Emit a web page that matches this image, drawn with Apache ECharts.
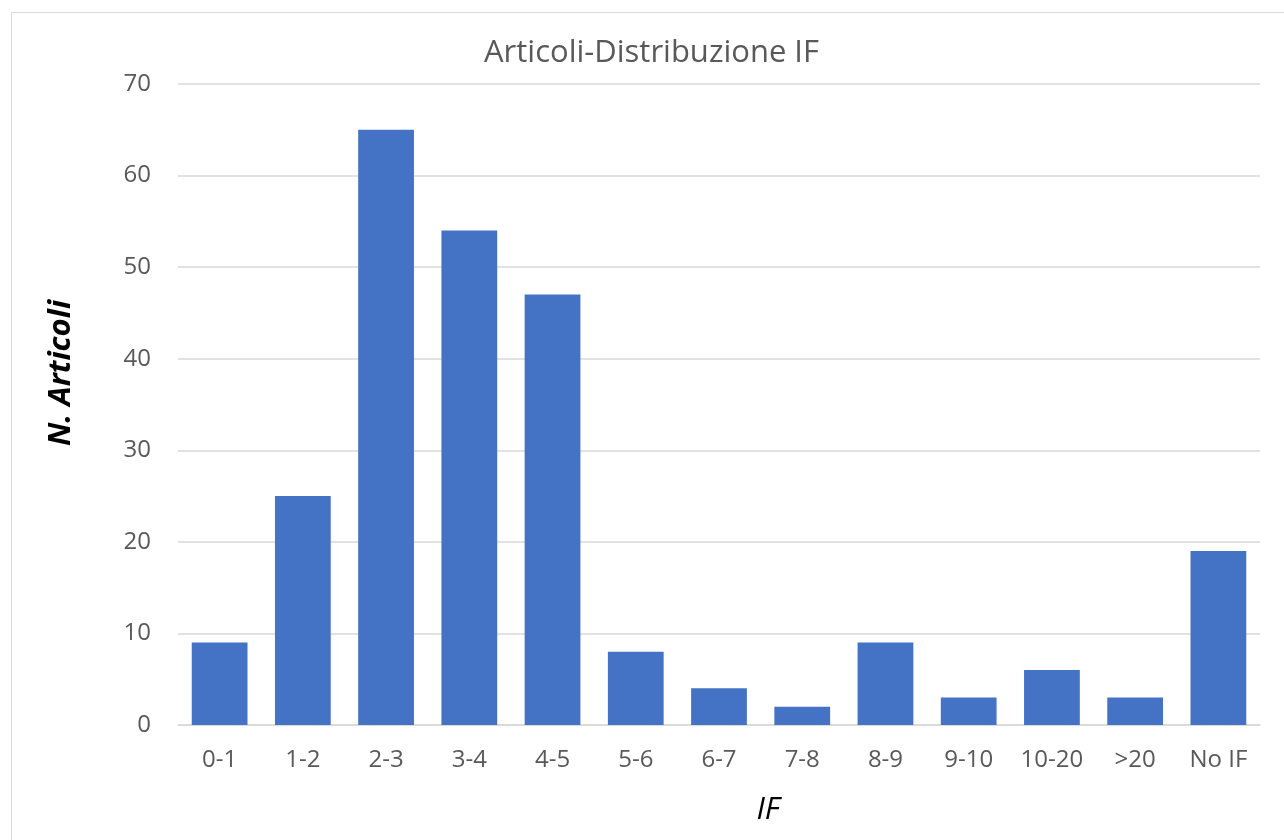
<!DOCTYPE html>
<html>
<head>
<meta charset="utf-8">
<script src="https://cdn.jsdelivr.net/npm/echarts@6/dist/echarts.min.js"></script>
<style>
  html, body { margin: 0; padding: 0; background: #fff; }
  #frame { position: absolute; left: 11px; top: 12px; width: 1290px; height: 840px; border: 1px solid #d9d9d9; }
  #chart { position: absolute; left: 0; top: 0; width: 1284px; height: 840px; }
</style>
</head>
<body>
<div id="frame"></div>
<div id="chart"></div>
<script>
// fasce di IF
var categories = ['0-1', '1-2', '2-3', '3-4', '4-5', '5-6', '6-7', '7-8', '8-9', '9-10', '10-20', '>20', 'No IF'];
// numero articoli per fascia
var articoli = [9, 25, 65, 54, 47, 8, 4, 2, 9, 3, 6, 3, 19];
var yTicks = [0, 10, 20, 30, 40, 50, 60, 70];

var font = '"Open Sans", "Noto Sans", sans-serif';

var myChart = echarts.init(document.getElementById('chart'), null, { renderer: 'canvas' });

var option = {
    backgroundColor: 'transparent',
    animation: false,
    title: {
        text: 'Articoli-Distribuzione IF',
        left: 479,
        top: 33,
        textStyle: { fontFamily: font, fontSize: 31, fontWeight: 'normal', color: '#595959' }
    },
    grid: { left: 178, right: 24, top: 84, bottom: 115, containLabel: false },
    xAxis: {
        type: 'category',
        data: categories,
        axisLine: { lineStyle: { color: '#d9d9d9', width: 1.5 } },
        axisTick: { show: false },
        axisLabel: { fontFamily: font, fontSize: 24, color: '#595959', margin: 23 }
    },
    yAxis: {
        type: 'value',
        min: yTicks[0],
        max: yTicks[yTicks.length - 1],
        interval: 10,
        axisLine: { show: false },
        axisTick: { show: false },
        splitLine: { lineStyle: { color: '#d9d9d9', width: 1.5 } },
        axisLabel: { fontFamily: font, fontSize: 24, color: '#595959', margin: 27 }
    },
    graphic: [
        {
            type: 'text',
            x: 61, y: 373,
            rotation: Math.PI / 2,
            style: {
                text: 'N. Articoli',
                font: 'italic bold 31px ' + font,
                fill: '#000',
                align: 'center',
                verticalAlign: 'middle'
            }
        },
        {
            type: 'text',
            x: 768, y: 810,
            style: {
                text: 'IF',
                font: 'italic 31px ' + font,
                fill: '#000',
                align: 'center',
                verticalAlign: 'middle'
            }
        }
    ],
    series: [
        {
            name: 'N. Articoli',
            type: 'bar',
            data: articoli,
            barCategoryGap: '33%',
            itemStyle: { color: '#4472c4' }
        }
    ]
};

myChart.setOption(option);
</script>
</body>
</html>
